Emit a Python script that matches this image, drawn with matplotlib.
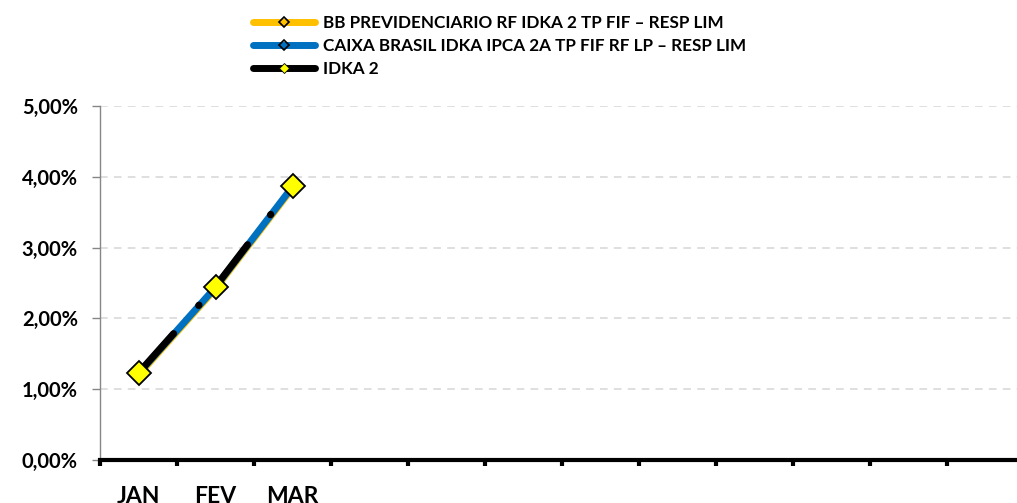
import numpy as np
from matplotlib import pyplot as plt
from matplotlib.lines import Line2D
from matplotlib.ticker import FixedLocator, NullFormatter

plt.rcParams["font.family"] = ["Lato", "DejaVu Sans"]
plt.rcParams["font.weight"] = "bold"
plt.rcParams["lines.scale_dashes"] = False

#: Month labels (only the first three months have data).
MONTHS = ["JAN", "FEV", "MAR", "", "", "", "", "", "", "", "", ""]

#: Monthly accumulated returns, in percent.
BB = [1.20, 2.42, 3.84]
CAIXA = [1.22, 2.44, 3.86]
IDKA = [1.23, 2.45, 3.87]

NAMES = [
    "BB PREVIDENCIARIO RF IDKA 2 TP FIF \u2013 RESP LIM",
    "CAIXA BRASIL IDKA IPCA 2A TP FIF RF LP \u2013 RESP LIM",
    "IDKA 2",
]

YELLOW = "#FFC000"
BLUE = "#0070C0"
W, H = 1017, 503

fig = plt.figure(figsize=(W / 100, H / 100), dpi=100)
# plot area runs past the right border, as in the original picture
ax = fig.add_axes([100 / W, 43 / H, 924 / W, 354 / H])

x = np.arange(len(BB)) + 0.5

ax.plot(x, BB, color=YELLOW, lw=5, solid_capstyle="round", zorder=3,
        marker="D", ms=5, mfc="none", mec="black", mew=1)
ax.plot(x, CAIXA, color=BLUE, lw=5, solid_capstyle="round", zorder=4,
        marker="D", ms=5, mfc="none", mec="black", mew=1)
# long dash - dot pattern restarts at every segment
for i in range(len(IDKA) - 1):
    ax.plot(x[i:i + 2], IDKA[i:i + 2], color="black", lw=5,
            dashes=(38, 27, 0.5, 60), dash_capstyle="round", zorder=5)
ax.plot(x, IDKA, ls="none", marker="D", ms=12, mfc="#FFFF00", mec="black",
        mew=1.3, zorder=6)

ax.set_xlim(0, len(MONTHS))
ax.set_ylim(0, 5)

ax.xaxis.set_major_locator(FixedLocator(np.arange(len(MONTHS) + 1)))
ax.xaxis.set_major_formatter(NullFormatter())
ax.xaxis.set_minor_locator(FixedLocator(np.arange(len(MONTHS)) + 0.5))
ax.set_xticklabels(MONTHS, minor=True, fontsize=16.5)
ax.tick_params(axis="x", which="major", length=4, width=3, color="black",
               direction="out")
ax.tick_params(axis="x", which="minor", length=0, pad=19)

yt = np.arange(0, 6)
ax.set_yticks(yt)
ax.set_yticklabels([f"{v:.2f}%".replace(".", ",") for v in yt], fontsize=14.5)
ax.tick_params(axis="y", length=6, width=1, color="#868686", pad=10)

for v in yt[1:]:
    ax.axhline(v, color="#D9D9D9", lw=1.2, ls=(0, (5.5, 4.5)), zorder=1)

for side in ("top", "right"):
    ax.spines[side].set_visible(False)
ax.spines["left"].set_color("#868686")
ax.spines["left"].set_linewidth(1)
ax.spines["bottom"].set_color("black")
ax.spines["bottom"].set_linewidth(3)
ax.spines["bottom"].set_zorder(7)

handles = [
    Line2D([], [], color=YELLOW, lw=5, solid_capstyle="round", marker="D",
           ms=5, mfc="none", mec="black", mew=1.2),
    Line2D([], [], color=BLUE, lw=5, solid_capstyle="round", marker="D",
           ms=5, mfc="none", mec="black", mew=1.2),
    Line2D([], [], color="black", lw=5, solid_capstyle="round", marker="D",
           ms=5, mfc="#FFFF00", mec="black", mew=0.6),
]
fig.legend(handles, NAMES, loc="upper left", bbox_to_anchor=(253 / W, 1 - 15 / H),
           frameon=False, fontsize=12.3, handlelength=3.6, handletextpad=0.5,
           labelspacing=0.4, borderaxespad=0, borderpad=0)

fig.savefig("out.png", dpi=100)
